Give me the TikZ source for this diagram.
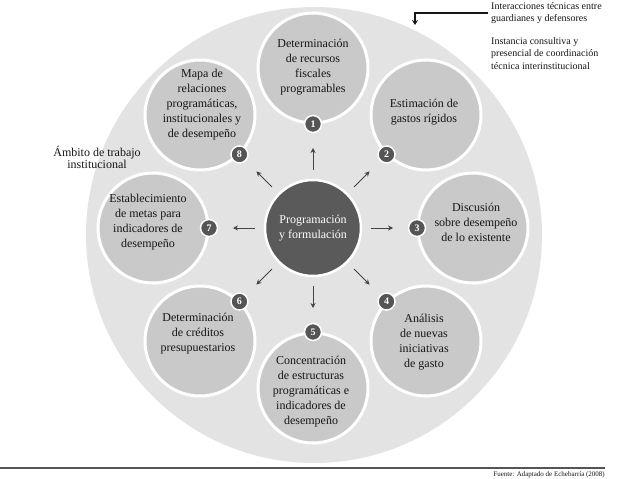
\documentclass[tikz,border=0pt]{standalone}
\usepackage{fontspec}
\setmainfont{Liberation Serif}
\usetikzlibrary{arrows.meta,calc}
\definecolor{bigc}{HTML}{E3E3E3}
\definecolor{petal}{HTML}{C9C9C9}
\definecolor{hub}{HTML}{5A5A5A}
\definecolor{badgec}{HTML}{555555}
\definecolor{ink}{HTML}{151515}
\definecolor{arr}{HTML}{444444}
\definecolor{rule}{HTML}{555555}
\begin{document}
\begin{tikzpicture}[x=1pt,y=-1pt,
  petalc/.style={circle, fill=petal, draw=white, line width=3pt, minimum size=110pt, inner sep=0pt},
  petaltext/.style={align=center, font=\fontsize{12}{15}\selectfont, text=ink, inner sep=0pt},
  hubc/.style={circle, fill=hub, draw=white, line width=2.5pt, minimum size=96pt, inner sep=0pt},
  badge/.style={circle, fill=badgec, draw=white, line width=1.5pt, minimum size=17pt, inner sep=0pt, text=white, font=\fontsize{10}{10}\selectfont\bfseries},
  outarrow/.style={-{Stealth[length=5pt,width=5pt]}, draw=arr, line width=1pt},
  legendtext/.style={align=left, anchor=north west, font=\fontsize{10}{12.5}\selectfont, text=ink, inner sep=0pt},
]
\useasboundingbox (0,0) rectangle (621,479);
% big area
\node[circle, fill=bigc, minimum size=456pt, inner sep=0pt] (big) at (314,235) {};
% petals
\node[petalc] (p1) at (313,68) {};
\node[petalc] (p2) at (426,115) {};
\node[petalc] (p3) at (473,228) {};
\node[petalc] (p4) at (426,341) {};
\node[petalc] (p5) at (313,388) {};
\node[petalc] (p6) at (200,341) {};
\node[petalc] (p7) at (153,228) {};
\node[petalc] (p8) at (200,115) {};
% hub
\node[hubc] (hub) at (313,228) {};
\node[petaltext, text=white] (hubt) at (313,228) {Programación\\y formulación};
% texts
\node[petaltext] (t1) at (313,67) {Determinación\\de recursos\\fiscales\\programables};
\node[petaltext] (t2) at (424,112) {Estimación de\\gastos rígidos};
\node[petaltext] (t3) at (476,222) {Discusión\\sobre desempeño\\de lo existente};
\node[petaltext] (t4) at (424,342) {Análisis\\de nuevas\\iniciativas\\de gasto};
\node[petaltext] (t5) at (311,392) {Concentración\\de estructuras\\programáticas e\\indicadores de\\desempeño};
\node[petaltext] (t6) at (198,334) {Determinación\\de créditos\\presupuestarios};
\node[petaltext] (t7) at (148,222) {Establecimiento\\de metas para\\indicadores de\\desempeño};
\node[petaltext] (t8) at (202,105) {Mapa de\\relaciones\\programáticas,\\institucionales y\\de desempeño};
% arrows
\foreach \p in {p1,p2,p3,p4,p5,p6,p7,p8}{
  \draw[outarrow] ($(hub.center)!58pt!(\p)$) -- ($(hub.center)!80pt!(\p)$);
}
% badges
\node[badge] (b1) at ($(hub.center)!104pt!(p1)$) {1};
\node[badge] (b2) at ($(hub.center)!104pt!(p2)$) {2};
\node[badge] (b3) at ($(hub.center)!104pt!(p3)$) {3};
\node[badge] (b4) at ($(hub.center)!104pt!(p4)$) {4};
\node[badge] (b5) at ($(hub.center)!104pt!(p5)$) {5};
\node[badge] (b6) at ($(hub.center)!104pt!(p6)$) {6};
\node[badge] (b7) at ($(hub.center)!104pt!(p7)$) {7};
\node[badge] (b8) at ($(hub.center)!104pt!(p8)$) {8};
% left label
\node[align=center, font=\fontsize{12}{12}\selectfont, text=ink, inner sep=0pt] (amb) at (97,157) {Ámbito de trabajo\\institucional};
% legend
\coordinate (la) at (488,13);
\coordinate (lb) at (415,13);
\coordinate (lc) at (415,25);
\draw[-{Stealth[length=5pt,width=6pt]}, draw=ink, line width=1.3pt] (la) -- (lb) -- (lc);
\node[legendtext] (lg1) at (491,2) {Interacciones técnicas entre\\guardianes y defensores};
\node[legendtext] (lg2) at (491,37) {Instancia consultiva y\\presencial de coordinación\\técnica interinstitucional};
% bottom rule and source
\coordinate (r1) at (0,468);
\coordinate (r2) at (605,468);
\draw[draw=rule, line width=2pt] (r1) -- (r2);
\node[anchor=north east, font=\fontsize{7}{8}\selectfont, text=ink, inner sep=0pt] (src) at (605,471) {Fuente: Adaptado de Echebarría (2008)};
\end{tikzpicture}
\end{document}
